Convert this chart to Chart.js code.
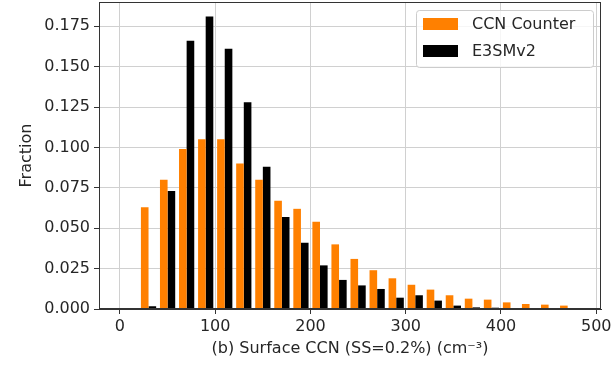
<!DOCTYPE html>
<html>
<head>
<meta charset="utf-8">
<script src="https://cdn.jsdelivr.net/npm/chart.js@4.4.0/dist/chart.umd.min.js"></script>
<style>
  html, body { margin: 0; padding: 0; background: #fff; }
  #wrap { width: 615px; height: 367px; }
</style>
</head>
<body>
<div id="wrap"><canvas id="hist"></canvas></div>
<script>
// bin centres (bins are 20 cm-3 wide, 20..480)
const binCenters = [30, 50, 70, 90, 110, 130, 150, 170, 190, 210, 230, 250,
  270, 290, 310, 330, 350, 370, 390, 410, 430, 450, 470];
const ccnCounter = [0.063, 0.080, 0.099, 0.105, 0.105, 0.090, 0.080, 0.067, 0.062, 0.054, 0.040, 0.031,
  0.024, 0.019, 0.015, 0.012, 0.0085, 0.0064, 0.0058, 0.0041, 0.0031, 0.0027, 0.0021];
const e3smv2 = [0.0017, 0.073, 0.166, 0.181, 0.161, 0.128, 0.088, 0.057, 0.041, 0.027, 0.018, 0.0146,
  0.0124, 0.0070, 0.0085, 0.0052, 0.0021, 0.0010, 0.0008, 0.0004, 0.0004, 0.0006, 0];
const xTicks = [0, 100, 200, 300, 400, 500];
const yTicks = [0, 0.025, 0.05, 0.075, 0.1, 0.125, 0.15, 0.175];

const font = { family: 'DejaVu Sans', size: 16 };
const textColor = '#262626';

const toPoints = (vals) => vals.map((v, i) => ({ x: binCenters[i], y: v }));

// full frame + legend box like matplotlib
const frameAndLegend = {
  id: 'frameAndLegend',
  afterDraw(chart) {
    const { ctx, chartArea: a } = chart;
    ctx.save();
    ctx.strokeStyle = '#333';
    ctx.lineWidth = 1;
    ctx.strokeRect(a.left + 0.5, a.top + 0.5, a.right - a.left - 1, a.bottom - a.top - 1);

    // legend
    const bx = 416, by = 10, bw = 177, bh = 57;
    ctx.fillStyle = 'rgba(255,255,255,0.8)';
    ctx.strokeStyle = '#cccccc';
    ctx.beginPath();
    ctx.roundRect(bx + 0.5, by + 0.5, bw, bh, 3);
    ctx.fill();
    ctx.stroke();
    ctx.font = '16px "DejaVu Sans"';
    ctx.textBaseline = 'middle';
    chart.data.datasets.forEach((ds, i) => {
      const cy = 24 + i * 27;
      ctx.fillStyle = ds.backgroundColor;
      ctx.fillRect(423, cy - 6, 35, 12);
      ctx.fillStyle = textColor;
      ctx.fillText(ds.label, 472, cy + 1);
    });
    ctx.restore();
  }
};

const noPad = (scale) => {
  scale.paddingTop = 0; scale.paddingBottom = 0;
  scale.paddingLeft = 0; scale.paddingRight = 0;
};

new Chart(document.getElementById('hist'), {
  type: 'bar',
  data: {
    datasets: [{
      label: 'CCN Counter',
      data: toPoints(ccnCounter),
      backgroundColor: '#ff8000',
      categoryPercentage: 0.8,
      barPercentage: 1.0
    }, {
      label: 'E3SMv2',
      data: toPoints(e3smv2),
      backgroundColor: '#000000',
      categoryPercentage: 0.8,
      barPercentage: 1.0
    }]
  },
  options: {
    responsive: true,
    maintainAspectRatio: false,
    animation: false,
    layout: { padding: { top: 2, right: 14, left: 0, bottom: 0 } },
    plugins: {
      legend: { display: false },
      tooltip: { enabled: false }
    },
    scales: {
      x: {
        type: 'linear',
        min: -22,
        max: 505,
        offset: false,
        afterBuildTicks: (scale) => { scale.ticks = xTicks.map(v => ({ value: v })); },
        afterFit: (scale) => { scale.height = 58; noPad(scale); },
        grid: { offset: false, color: '#d0d0d0', tickColor: '#333', tickLength: 5, drawTicks: true },
        border: { color: '#333' },
        ticks: { font: font, color: textColor, padding: 3, maxRotation: 0, callback: (v) => v },
        title: {
          display: true,
          text: '(b) Surface CCN (SS=0.2%) (cm\u207B\u00B3)',
          font: font, color: textColor,
          padding: { top: 0, bottom: 9 }
        }
      },
      y: {
        min: 0,
        max: 0.19,
        afterBuildTicks: (scale) => { scale.ticks = yTicks.map(v => ({ value: v })); },
        afterFit: (scale) => { scale.width = 99; noPad(scale); },
        grid: { color: '#d0d0d0', tickColor: '#333', tickLength: 5, drawTicks: true },
        border: { color: '#333' },
        ticks: { font: font, color: textColor, padding: 4, callback: (v) => v.toFixed(3) },
        title: {
          display: true,
          text: 'Fraction',
          font: font, color: textColor,
          padding: { top: 17, bottom: 0 }
        }
      }
    }
  },
  plugins: [frameAndLegend]
});
</script>
</body>
</html>
